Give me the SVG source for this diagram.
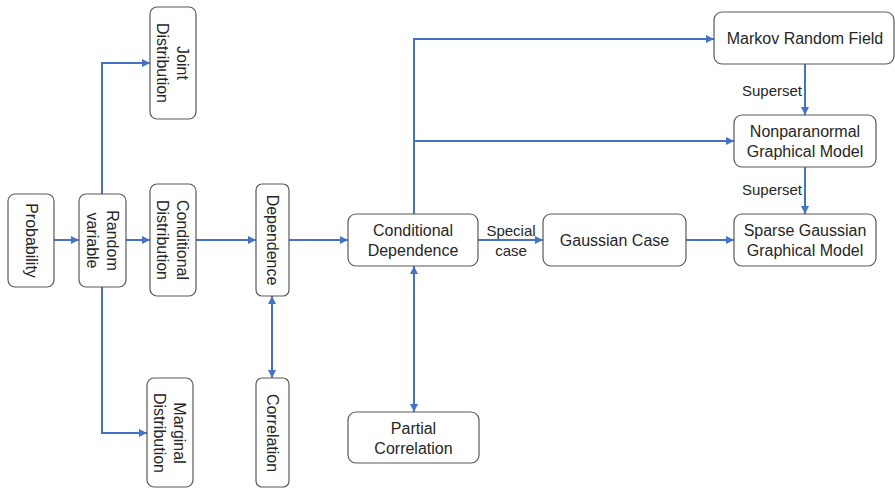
<svg xmlns="http://www.w3.org/2000/svg" width="895" height="488" viewBox="0 0 895 488">
<style>
.box{fill:#fff;stroke:#595959;stroke-width:1.2}
.t{font-family:"Liberation Sans",Arial,sans-serif;font-size:16px;fill:#262626;text-anchor:middle;dominant-baseline:central}
.lbl{font-family:"Liberation Sans",Arial,sans-serif;font-size:15px;fill:#262626;text-anchor:middle;dominant-baseline:central}
.c{fill:none;stroke:#4472C4;stroke-width:2}
</style>
<defs>
<marker id="ah" viewBox="0 0 10 10" refX="10" refY="5" markerWidth="8" markerHeight="8" markerUnits="userSpaceOnUse" orient="auto-start-reverse">
<path d="M0,0 L10,5 L0,10 z" fill="#4472C4"/>
</marker>
</defs>
<rect width="895" height="488" fill="#fff"/>
<g id="connectors">
<path class="c" d="M54,240 H79" marker-end="url(#ah)"/>
<path class="c" d="M126,240 H150" marker-end="url(#ah)"/>
<path class="c" d="M102,194 V63 H150" marker-end="url(#ah)"/>
<path class="c" d="M102,287 V433 H147" marker-end="url(#ah)"/>
<path class="c" d="M196,240 H256" marker-end="url(#ah)"/>
<path class="c" d="M272,296 V378" marker-start="url(#ah)" marker-end="url(#ah)"/>
<path class="c" d="M289,240 H348" marker-end="url(#ah)"/>
<path class="c" d="M478,240 H543" marker-end="url(#ah)"/>
<path class="c" d="M686,240 H734" marker-end="url(#ah)"/>
<path class="c" d="M414,214 V39 H714" marker-end="url(#ah)"/>
<path class="c" d="M414,141 H734" marker-end="url(#ah)"/>
<path class="c" d="M414,266 V412" marker-start="url(#ah)" marker-end="url(#ah)"/>
<path class="c" d="M805,64 V115" marker-end="url(#ah)"/>
<path class="c" d="M805,167 V214" marker-end="url(#ah)"/>
<text class="lbl" x="511" y="230">Special</text>
<text class="lbl" x="511" y="250">case</text>
<text class="lbl" x="772" y="90">Superset</text>
<text class="lbl" x="772" y="189">Superset</text>
</g>
<g id="probability">
<rect class="box" x="8" y="194" width="46" height="93" rx="7"/>
<text class="t" transform="translate(31,240.5) rotate(90)">Probability</text>
</g>
<g id="random-variable">
<rect class="box" x="79" y="194" width="47" height="93" rx="7"/>
<text class="t" transform="translate(102.5,240.5) rotate(90)"><tspan x="0" y="-10">Random</tspan><tspan x="0" y="10">variable</tspan></text>
</g>
<g id="joint-distribution">
<rect class="box" x="150" y="7" width="46" height="112" rx="7"/>
<text class="t" transform="translate(173,63) rotate(90)"><tspan x="0" y="-10">Joint</tspan><tspan x="0" y="10">Distribution</tspan></text>
</g>
<g id="conditional-distribution">
<rect class="box" x="150" y="184" width="46" height="112" rx="7"/>
<text class="t" transform="translate(173,240) rotate(90)"><tspan x="0" y="-10">Conditional</tspan><tspan x="0" y="10">Distribution</tspan></text>
</g>
<g id="marginal-distribution">
<rect class="box" x="147" y="378" width="46" height="109" rx="7"/>
<text class="t" transform="translate(170,433) rotate(90)"><tspan x="0" y="-10">Marginal</tspan><tspan x="0" y="10">Distribution</tspan></text>
</g>
<g id="dependence">
<rect class="box" x="256" y="184" width="33" height="112" rx="6"/>
<text class="t" transform="translate(272.5,240) rotate(90)">Dependence</text>
</g>
<g id="correlation">
<rect class="box" x="256" y="378" width="33" height="109" rx="6"/>
<text class="t" transform="translate(272.5,433) rotate(90)">Correlation</text>
</g>
<g id="conditional-dependence">
<rect class="box" x="348" y="214" width="130" height="52" rx="8"/>
<text class="t" x="413" y="230">Conditional</text>
<text class="t" x="413" y="250">Dependence</text>
</g>
<g id="gaussian-case">
<rect class="box" x="543" y="214" width="143" height="52" rx="8"/>
<text class="t" x="614.5" y="240">Gaussian Case</text>
</g>
<g id="partial-correlation">
<rect class="box" x="348" y="412" width="131" height="51" rx="8"/>
<text class="t" x="413.5" y="428">Partial</text>
<text class="t" x="413.5" y="448">Correlation</text>
</g>
<g id="markov-random-field">
<rect class="box" x="714" y="12" width="180" height="52" rx="8"/>
<text class="t" x="805" y="38">Markov Random Field</text>
</g>
<g id="nonparanormal">
<rect class="box" x="734" y="115" width="142" height="52" rx="8"/>
<text class="t" x="805" y="131">Nonparanormal</text>
<text class="t" x="805" y="151">Graphical Model</text>
</g>
<g id="sparse-gaussian">
<rect class="box" x="734" y="214" width="142" height="52" rx="8"/>
<text class="t" x="805" y="230">Sparse Gaussian</text>
<text class="t" x="805" y="250">Graphical Model</text>
</g>
</svg>
